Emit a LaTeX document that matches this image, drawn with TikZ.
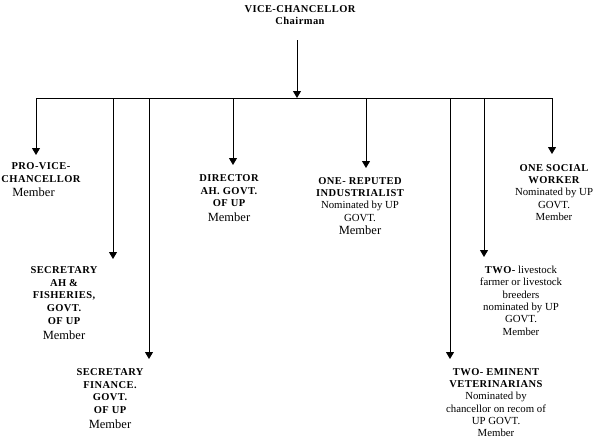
\documentclass[tikz,border=0pt]{standalone}
\usepackage{fontspec}
\setmainfont{Liberation Serif}
\newfontfamily\hdfont[LetterSpace=4]{Liberation Serif}
\usetikzlibrary{arrows.meta}
\tikzset{
  conn/.style={line width=1pt, draw=black},
  arr/.style={conn, -{Triangle[width=8pt,length=7pt]}},
  blk/.style={anchor=north, align=center, inner sep=0pt, font=\fontsize{10.8}{12.3}\selectfont},
  bblk/.style={blk, font=\fontsize{10.8}{12.9}\selectfont}
}
\newcommand{\hd}[1]{{\hdfont\bfseries\fontsize{10.5}{13}\selectfont #1}}
\newcommand{\mb}{{\fontsize{12.5}{14.5}\selectfont Member}}
\begin{document}
\begin{tikzpicture}[x=1pt,y=-1pt]
\useasboundingbox (0,0) rectangle (594,439);
% top
\node[blk] (vc) at (300,5) {\hd{VICE-CHANCELLOR}\\\hd{Chairman}};
\coordinate (vcs) at (297,40);
\coordinate (jvc) at (297,98);
\coordinate (j1) at (36,98);
\coordinate (j2) at (113,98);
\coordinate (j3) at (149,98);
\coordinate (j4) at (233,98);
\coordinate (j5) at (366,98);
\coordinate (j6) at (450,98);
\coordinate (j7) at (484,98);
\coordinate (j8) at (552,98);
% nodes
\node[bblk] (pvc) at (41,162) {\hd{PRO-VICE-}\\\hd{CHANCELLOR}\\[1.5pt]\mb\hspace*{15pt}};
\node[bblk] (sah) at (64,266) {\hd{SECRETARY}\\\hd{AH \&}\\\hd{FISHERIES,}\\\hd{GOVT.}\\\hd{OF UP}\\[1.5pt]\mb};
\node[bblk] (sfn) at (110,368) {\hd{SECRETARY}\\\hd{FINANCE.}\\\hd{GOVT.}\\\hd{OF UP}\\[1.5pt]\mb};
\node[bblk] (dir) at (229,174) {\hd{DIRECTOR}\\\hd{AH. GOVT.}\\\hd{OF UP}\\[1.5pt]\mb};
\node[blk] (ind) at (360,177) {\hd{ONE- REPUTED}\\\hd{INDUSTRIALIST}\\Nominated by UP\\GOVT.\\[1pt]\mb};
\node[blk] (vet) at (496,368) {\hd{TWO- EMINENT}\\\hd{VETERINARIANS}\\Nominated by\\chancellor on recom of\\UP GOVT.\\Member};
\node[blk] (liv) at (521,266) {\hd{TWO-} livestock\\farmer or livestock\\breeders\\nominated by UP\\GOVT.\\Member};
\node[blk] (soc) at (554,164) {\hd{ONE SOCIAL}\\\hd{WORKER}\\Nominated by UP\\GOVT.\\Member};
% connectors
\draw[arr] (vcs) -- (jvc);
\draw[conn] (j1) -- (j8);
\draw[arr] (j1) -- (j1 |- 0,155);
\draw[arr] (j2) -- (j2 |- 0,259);
\draw[arr] (j3) -- (j3 |- 0,359);
\draw[arr] (j4) -- (j4 |- 0,165);
\draw[arr] (j5) -- (j5 |- 0,168);
\draw[arr] (j6) -- (j6 |- 0,359);
\draw[arr] (j7) -- (j7 |- 0,257);
\draw[arr] (j8) -- (j8 |- 0,154);
\end{tikzpicture}
\end{document}
